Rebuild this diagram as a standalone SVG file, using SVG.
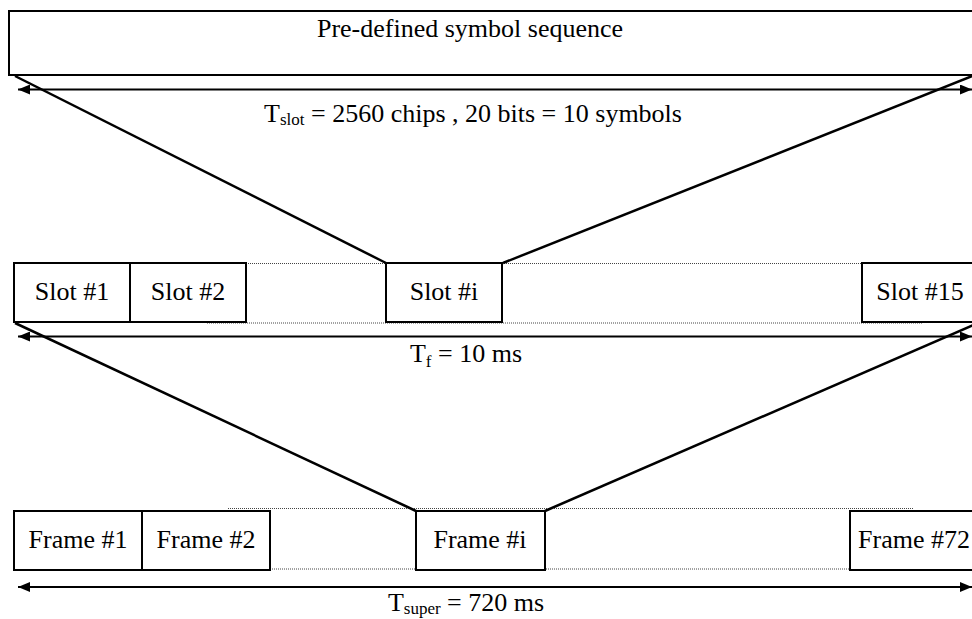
<svg xmlns="http://www.w3.org/2000/svg" width="972" height="619" viewBox="0 0 972 619">
  <style>
    .box { fill: #fff; stroke: #000; stroke-width: 2; }
    .lbl { font-family: "Liberation Serif", "Times New Roman", serif; font-size: 26px; fill: #000; text-anchor: middle; }
    .sub { font-size: 17px; }
    .dot { stroke: #444; stroke-width: 1; stroke-dasharray: 1 1; fill: none; }
    .diag { stroke: #000; stroke-width: 2.5; fill: none; }
    .dim { stroke: #000; stroke-width: 2; fill: none; marker-start: url(#ah); marker-end: url(#ah); }
  </style>
  <defs>
    <marker id="ah" viewBox="0 0 12 10" refX="12" refY="5" markerWidth="12" markerHeight="10" markerUnits="userSpaceOnUse" orient="auto-start-reverse">
      <path d="M0,0 L12,5 L0,10 Z" fill="#000"/>
    </marker>
  </defs>
  <rect width="972" height="619" fill="#fff"/>

  <!-- symbol sequence -->
  <g id="sequence">
    <rect class="box" x="9" y="11" width="980" height="64"/>
    <text class="lbl" x="470" y="37">Pre-defined symbol sequence</text>
  </g>

  <!-- slot row -->
  <g id="slot-row-gaps">
    <line class="dot" x1="246" y1="263.5" x2="863" y2="263.5"/>
    <line class="dot" x1="207" y1="323" x2="923" y2="323"/>
  </g>
  <g id="slot1">
    <rect class="box" x="14" y="263" width="116" height="59"/>
    <text class="lbl" x="72" y="300">Slot #1</text>
  </g>
  <g id="slot2">
    <rect class="box" x="130" y="263" width="116" height="59"/>
    <text class="lbl" x="188" y="300">Slot #2</text>
  </g>
  <g id="sloti">
    <rect class="box" x="386" y="263" width="116" height="59"/>
    <text class="lbl" x="444" y="300">Slot #i</text>
  </g>
  <g id="slot15">
    <rect class="box" x="862" y="263" width="116" height="59"/>
    <text class="lbl" x="920" y="300">Slot #15</text>
  </g>

  <!-- frame row -->
  <g id="frame-row-gaps">
    <line class="dot" x1="228" y1="508.5" x2="913" y2="508.5"/>
    <line class="dot" x1="218" y1="569" x2="851" y2="569"/>
  </g>
  <g id="frame1">
    <rect class="box" x="14" y="511" width="128" height="59"/>
    <text class="lbl" x="78" y="548">Frame #1</text>
  </g>
  <g id="frame2">
    <rect class="box" x="142" y="511" width="128" height="59"/>
    <text class="lbl" x="206" y="548">Frame #2</text>
  </g>
  <g id="framei">
    <rect class="box" x="416" y="511" width="129" height="59"/>
    <text class="lbl" x="480" y="548">Frame #i</text>
  </g>
  <g id="frame72">
    <rect class="box" x="850" y="511" width="128" height="59"/>
    <text class="lbl" x="914" y="548">Frame #72</text>
  </g>

  <!-- connectors: expansion lines and duration arrows -->
  <g id="connectors">
    <line class="diag" x1="15" y1="76" x2="386" y2="263"/>
    <line class="diag" x1="975" y1="75" x2="503" y2="263"/>
    <line class="diag" x1="15" y1="323" x2="416" y2="511"/>
    <line class="diag" x1="976" y1="324" x2="545" y2="511"/>
    <line class="dim" x1="18" y1="89.5" x2="972" y2="89.5"/>
    <line class="dim" x1="18" y1="336.5" x2="972" y2="336.5"/>
    <line class="dim" x1="18" y1="587" x2="972" y2="587"/>
  </g>

  <!-- duration labels -->
  <g id="labels">
    <text class="lbl" x="473" y="122">T<tspan class="sub" dy="3">slot</tspan><tspan dy="-3"> = 2560 chips , 20 bits = 10 symbols</tspan></text>
    <text class="lbl" x="466" y="362">T<tspan class="sub" dy="5">f</tspan><tspan dy="-5"> = 10 ms</tspan></text>
    <text class="lbl" x="466" y="611">T<tspan class="sub" dy="3">super</tspan><tspan dy="-3"> = 720 ms</tspan></text>
  </g>
</svg>
